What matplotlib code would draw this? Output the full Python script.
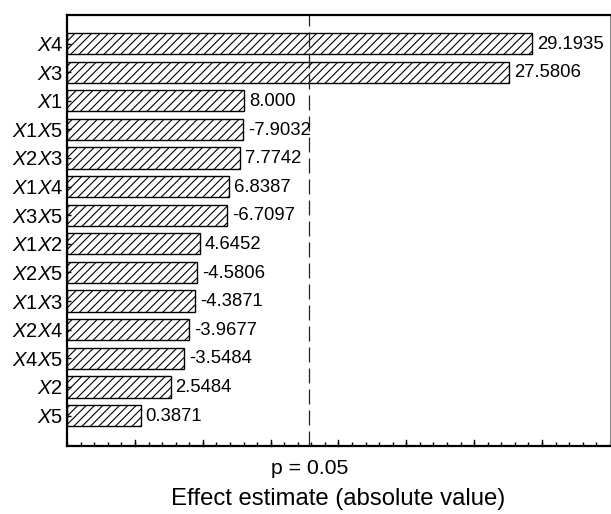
import matplotlib.pyplot as plt
from matplotlib.ticker import MultipleLocator

plt.rcParams['font.family'] = ['Liberation Sans', 'DejaVu Sans']
plt.rcParams['mathtext.fontset'] = 'custom'
plt.rcParams['mathtext.it'] = 'Liberation Sans:italic'
plt.rcParams['mathtext.rm'] = 'Liberation Sans'
plt.rcParams['hatch.linewidth'] = 0.8

# factors from top to bottom
factors = ['X4', 'X3', 'X1', 'X1X5', 'X2X3', 'X1X4', 'X3X5', 'X1X2',
           'X2X5', 'X1X3', 'X2X4', 'X4X5', 'X2', 'X5']
# effect estimates printed beside the bars
effects = ['29.1935', '27.5806', '8.000', '-7.9032', '7.7742', '6.8387', '-6.7097',
           '4.6452', '-4.5806', '-4.3871', '-3.9677', '-3.5484', '2.5484', '0.3871']
# standardized bar lengths
std_effect = [6.857, 6.519, 2.613, 2.593, 2.554, 2.387, 2.358,
              1.956, 1.917, 1.887, 1.799, 1.721, 1.525, 1.084]
p_line = 3.57


def fmt_label(name):
    out = ''
    for ch in name:
        if ch == 'X':
            out += r'$\mathit{X}$'
        else:
            out += ch
    return out


fig, ax = plt.subplots(figsize=(6.11, 5.14), dpi=100)
fig.subplots_adjust(left=0.110, right=0.998, top=0.971, bottom=0.132)

n = len(factors)
ypos = [n - 1 - i for i in range(n)]
bars = ax.barh(ypos, std_effect, height=0.74, color='white', edgecolor='black',
               linewidth=1.0, hatch='////')

for b, lab in zip(bars, effects):
    ax.annotate(lab, xy=(b.get_width(), b.get_y() + b.get_height() / 2),
                xytext=(3.5, -0.5), textcoords='offset points', ha='left', va='center',
                fontsize=13.3)

ax.axvline(p_line, color='#222222', linestyle=(0, (12, 4.8)), linewidth=0.9)

ax.set_xlim(0, 8)
ax.set_ylim(-1.07, n)
ax.set_yticks(ypos)
ax.set_yticklabels([fmt_label(f) for f in factors], fontsize=14.5)
ax.set_xticks([p_line])
ax.set_xticklabels(['p = 0.05'], fontsize=15.3)
ax.xaxis.set_minor_locator(MultipleLocator(0.2))
ax.tick_params(axis='x', which='major', direction='in', length=0, pad=9.5)
ax.tick_params(axis='x', which='minor', direction='in', length=3, width=1)
ax.tick_params(axis='y', direction='in', length=3, width=1, pad=3)
ax.set_xlabel('Effect estimate (absolute value)', fontsize=17.2, labelpad=7)

# longer marks every whole unit
for v in range(1, 8):
    ax.plot([v, v], [0, 0.0135], transform=ax.get_xaxis_transform(),
            color='black', linewidth=1, clip_on=False)

for side in ['top', 'left', 'bottom']:
    ax.spines[side].set_linewidth(1.6)
ax.spines['right'].set_linewidth(0.8)
ax.spines['right'].set_color('#888888')

fig.savefig('out.png', dpi=100)
